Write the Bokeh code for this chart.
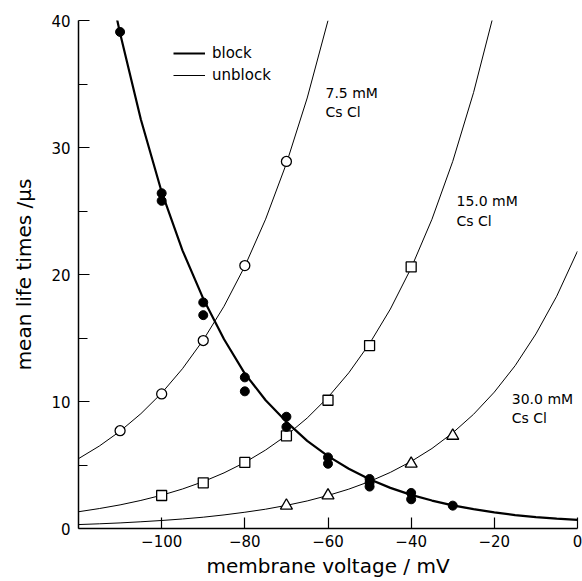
from bokeh.plotting import figure
from bokeh.models import Range1d, FixedTicker, Legend, LegendItem, Label
from bokeh.embed import file_html
from bokeh.resources import INLINE

# ---- data ----
# measured points
block_v = [-110, -100, -100, -90, -90, -80, -80, -70, -70, -60, -60, -50, -50, -50, -40, -40, -30]
block_t = [39.1, 26.4, 25.8, 17.8, 16.8, 11.9, 10.8, 8.8, 8.0, 5.6, 5.1, 3.9, 3.6, 3.3, 2.8, 2.3, 1.8]

c75_v = [-110, -100, -90, -80, -70]
c75_t = [7.7, 10.6, 14.8, 20.7, 28.9]

c15_v = [-100, -90, -80, -70, -60, -50, -40]
c15_t = [2.6, 3.6, 5.2, 7.3, 10.1, 14.4, 20.6]

c30_v = [-70, -60, -40, -30]
c30_t = [1.8, 2.6, 5.1, 7.3]

# fitted curves (read every 5 mV)
block_curve_v = [-111, -110, -105, -100, -95, -90, -85, -80, -75, -70, -65, -60, -55, -50,
                 -45, -40, -35, -30, -25, -20, -15, -10, -5, 0]
block_curve_t = [40.5, 39.0, 32.2, 26.5, 21.9, 18.1, 14.9, 12.2, 10.1, 8.4, 6.9, 5.7, 4.7, 3.87,
                 3.2, 2.65, 2.2, 1.82, 1.52, 1.27, 1.06, 0.9, 0.78, 0.68]

c75_curve_v = [-120, -115, -110, -105, -100, -95, -90, -85, -80, -75, -70, -65, -60]
c75_curve_t = [5.50, 6.49, 7.66, 9.04, 10.66, 12.58, 14.84, 17.50, 20.65, 24.36, 28.74, 33.90, 40.0]

c15_curve_v = [-120, -115, -110, -105, -100, -95, -90, -85, -80, -75, -70, -65, -60, -55,
               -50, -45, -40, -35, -30, -25, -20]
c15_curve_t = [1.32, 1.57, 1.86, 2.21, 2.62, 3.11, 3.69, 4.38, 5.20, 6.18, 7.33, 8.70, 10.33, 12.26,
               14.56, 17.28, 20.51, 24.35, 28.91, 34.32, 40.7]

c30_curve_v = [-120, -115, -110, -105, -100, -95, -90, -85, -80, -75, -70, -65, -60, -55, -50,
               -45, -40, -35, -30, -25, -20, -15, -10, -5, 0]
c30_curve_t = [0.31, 0.37, 0.44, 0.53, 0.63, 0.75, 0.89, 1.07, 1.28, 1.52, 1.82, 2.17, 2.60, 3.10, 3.70,
               4.42, 5.28, 6.30, 7.53, 8.99, 10.74, 12.82, 15.32, 18.29, 21.84]

x_ticks = [-100, -80, -60, -40, -20, 0]
y_ticks = [0, 10, 20, 30, 40]
y_minor = [5, 15, 25, 35]

FONT = "DejaVu Sans"

p = figure(width=582, height=580, output_backend="svg", toolbar_location=None,
           x_range=Range1d(-120, 0), y_range=Range1d(0, 40),
           min_border_left=78, min_border_right=5, min_border_top=20, min_border_bottom=52)
p.outline_line_color = None
p.grid.visible = False
p.background_fill_color = "white"

# curves
r_block = p.line(block_curve_v, block_curve_t, line_color="black", line_width=2.2)
r_unb = p.line(c75_curve_v, c75_curve_t, line_color="black", line_width=1)
p.line(c15_curve_v, c15_curve_t, line_color="black", line_width=1)
p.line(c30_curve_v, c30_curve_t, line_color="black", line_width=1)

# markers
p.scatter(c75_v, c75_t, marker="circle", size=10, fill_color="white", line_color="black", line_width=1.3)
p.scatter(c15_v, c15_t, marker="square", size=10, fill_color="white", line_color="black", line_width=1.3)
p.scatter(c30_v, c30_t, marker="triangle", size=12, fill_color="white", line_color="black", line_width=1.3)
p.scatter(block_v, block_t, marker="circle", size=9, fill_color="black", line_color="black")

# axes
for ax in (p.xaxis[0], p.yaxis[0]):
    ax.axis_line_width = 1.5
    ax.major_tick_line_width = 1.2
    ax.minor_tick_line_width = 1.2
    ax.major_tick_in = 11
    ax.major_tick_out = 0
    ax.major_label_text_font = FONT
    ax.major_label_text_font_size = "15px"
    ax.major_label_text_color = "black"
    ax.axis_label_text_font = FONT
    ax.axis_label_text_font_size = "20px"
    ax.axis_label_text_font_style = "normal"
    ax.axis_label_text_color = "black"

p.xaxis.ticker = FixedTicker(ticks=x_ticks)
p.xaxis.minor_tick_line_color = None
p.xaxis.major_label_standoff = 6
p.xaxis.axis_label = "membrane voltage / mV"
p.xaxis.axis_label_standoff = 4

p.yaxis.ticker = FixedTicker(ticks=y_ticks, minor_ticks=y_minor)
p.yaxis.minor_tick_in = 9
p.yaxis.minor_tick_out = 0
p.yaxis.major_label_standoff = 8
p.yaxis.axis_label = "mean life times /µs"
p.yaxis.axis_label_standoff = 12

# legend
legend = Legend(items=[LegendItem(label="block", renderers=[r_block]),
                       LegendItem(label="unblock", renderers=[r_unb])],
                location=(95, 444), orientation="vertical")
legend.border_line_color = None
legend.background_fill_alpha = 0
legend.padding = 0
legend.margin = 0
legend.spacing = 4
legend.glyph_width = 32
legend.glyph_height = 18
legend.label_height = 18
legend.label_standoff = 7
legend.label_text_font = FONT
legend.label_text_font_size = "15px"
legend.label_text_color = "black"
legend.label_text_baseline = "middle"
p.add_layout(legend)

# concentration labels
for x, y, txt in [(-60.6, 34.3, "7.5 mM"), (-60.6, 32.8, "Cs Cl"),
                  (-29.1, 25.8, "15.0 mM"), (-29.1, 24.2, "Cs Cl"),
                  (-15.8, 10.2, "30.0 mM"), (-15.8, 8.7, "Cs Cl")]:
    p.add_layout(Label(x=x, y=y, text=txt, text_font=FONT, text_font_size="14px",
                       text_baseline="middle", text_align="left", text_color="black"))

open("out.html", "w").write(file_html(p, INLINE))
